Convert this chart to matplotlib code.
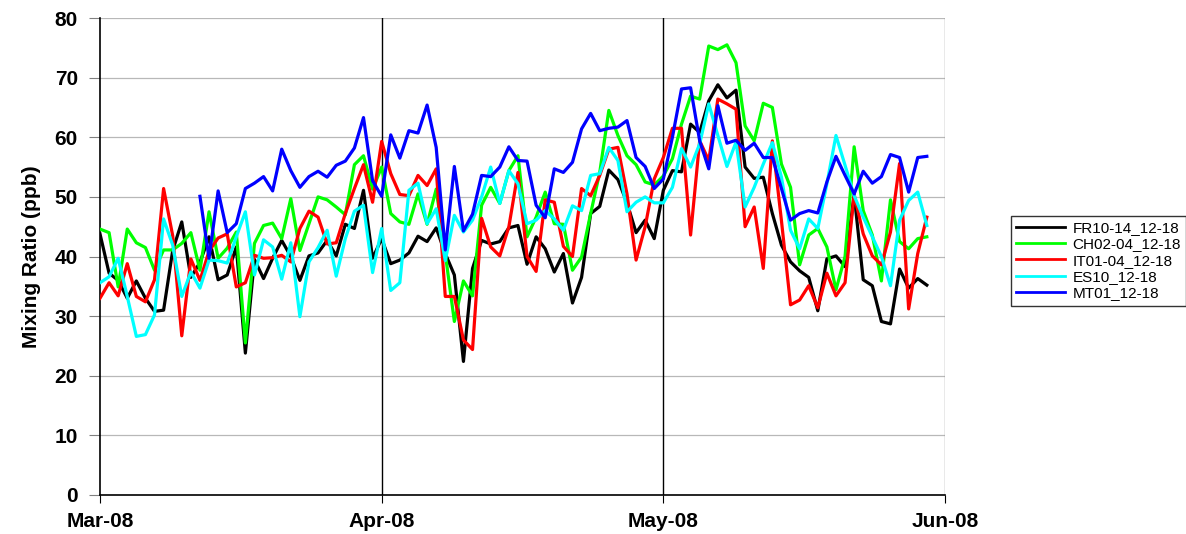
import numpy as np
import matplotlib
matplotlib.use('Agg')
import matplotlib.pyplot as plt

plt.rcParams['font.family'] = ['Liberation Sans', 'DejaVu Sans']

# daily values, 1 Mar .. 31 May 2008 (92 days)
fr10 = [43.8, 37.2, 36.0, 33.0, 35.9, 33.0, 30.8, 31.0, 41.0, 45.8,
        36.5, 39.0, 43.3, 36.1, 36.9, 41.6, 23.8, 39.5, 36.3, 39.7,
        42.7, 40.0, 36.0, 40.1, 40.6, 42.7, 40.1, 45.4, 44.7, 51.1,
        39.7, 43.0, 38.8, 39.4, 40.6, 43.4, 42.5, 44.8, 40.5, 36.9,
        22.4, 38.0, 42.7, 42.1, 42.5, 44.8, 45.2, 38.7, 43.3, 41.3,
        37.4, 40.5, 32.2, 36.5, 47.2, 48.4, 54.5, 52.9, 49.0, 44.0,
        46.1, 43.0, 51.1, 54.4, 54.2, 62.2, 60.8, 66.1, 68.8, 66.6,
        67.9, 55.0, 53.1, 53.3, 47.2, 41.9, 39.1, 37.6, 36.5, 30.9,
        39.6, 40.1, 38.3, 50.4, 36.1, 35.1, 29.1, 28.7, 37.9, 34.7,
        36.3, 35.2]
ch02 = [44.6, 44.0, 34.9, 44.6, 42.3, 41.5, 37.7, 41.1, 41.1, 42.2,
        44.0, 37.7, 47.5, 39.7, 41.4, 44.1, 25.5, 42.2, 45.2, 45.6,
        43.0, 49.7, 41.0, 45.5, 50.0, 49.5, 48.3, 47.0, 55.4, 56.9,
        51.3, 55.0, 47.2, 45.8, 45.4, 50.5, 45.4, 51.3, 40.5, 29.1,
        35.9, 33.4, 48.6, 51.6, 48.9, 54.4, 56.9, 43.3, 46.6, 50.8,
        45.5, 45.4, 37.7, 39.9, 47.2, 54.1, 64.5, 60.3, 56.9, 55.4,
        52.5, 52.0, 53.5, 56.4, 62.2, 66.9, 66.4, 75.3, 74.7, 75.5,
        72.5, 61.9, 59.4, 65.7, 65.0, 55.5, 51.6, 38.6, 43.6, 44.7,
        41.6, 34.4, 40.0, 58.4, 47.7, 43.6, 35.9, 49.5, 42.5, 41.3,
        43.0, 43.3]
it01 = [33.0, 35.6, 33.4, 38.8, 33.3, 32.4, 36.1, 51.4, 43.5, 26.7,
        39.6, 36.0, 40.9, 43.1, 43.8, 34.9, 35.6, 40.2, 39.7, 39.8,
        40.2, 39.1, 44.7, 47.6, 46.6, 42.1, 42.3, 47.2, 51.4, 55.4,
        49.1, 59.3, 53.9, 50.4, 50.2, 53.6, 51.9, 54.7, 33.3, 33.3,
        26.0, 24.4, 46.4, 41.6, 40.1, 45.0, 54.1, 40.0, 37.5, 49.5,
        49.1, 41.7, 40.0, 51.4, 50.2, 53.6, 58.0, 58.3, 50.5, 39.4,
        45.0, 53.0, 56.6, 61.5, 61.5, 43.6, 59.4, 56.1, 66.4, 65.6,
        64.7, 45.0, 48.3, 38.0, 59.4, 46.0, 31.9, 32.7, 35.1, 31.4,
        37.2, 33.4, 35.6, 50.4, 43.8, 40.1, 38.6, 44.1, 55.6, 31.2,
        40.5, 46.6]
es10 = [35.6, 36.6, 39.7, 33.3, 26.6, 26.9, 30.2, 46.3, 41.9, 33.3,
        37.4, 34.7, 39.4, 39.3, 38.9, 43.3, 47.5, 36.9, 42.8, 41.6,
        36.2, 42.3, 29.9, 39.1, 41.5, 44.4, 36.7, 43.0, 47.6, 48.6,
        37.3, 44.7, 34.3, 35.6, 51.1, 52.3, 45.5, 48.0, 39.3, 46.9,
        44.1, 46.1, 50.0, 55.0, 48.9, 54.4, 52.2, 45.5, 46.1, 47.7,
        46.3, 44.4, 48.5, 47.7, 53.6, 53.9, 58.3, 56.1, 47.5, 49.1,
        50.0, 49.0, 49.0, 51.6, 58.1, 55.0, 58.9, 65.6, 60.3, 55.1,
        59.2, 48.3, 51.6, 55.5, 59.1, 53.3, 44.4, 41.3, 46.3, 44.7,
        52.2, 60.3, 55.3, 50.2, 46.6, 43.3, 40.0, 35.1, 46.1, 49.4,
        50.8, 45.2]
mt01 = [np.nan] * 11 + [
        50.1, 39.7, 51.0, 44.0, 45.5, 51.4, 52.3, 53.4, 51.0,
        58.0, 54.4, 51.6, 53.4, 54.3, 53.3, 55.3, 56.0, 58.2, 63.3,
        52.7, 50.1, 60.4, 56.5, 61.1, 60.7, 65.4, 58.3, 41.1, 55.1,
        44.3, 47.1, 53.6, 53.4, 55.0, 58.4, 56.1, 56.0, 48.6, 46.5,
        54.7, 54.1, 55.8, 61.4, 64.0, 61.1, 61.5, 61.7, 62.8, 56.6,
        55.1, 51.4, 53.0, 60.0, 68.1, 68.3, 59.4, 54.7, 65.3, 59.0,
        59.5, 57.8, 59.0, 56.6, 56.6, 51.4, 46.1, 47.2, 47.7, 47.3,
        52.5, 56.8, 53.6, 50.5, 54.3, 52.3, 53.4, 57.1, 56.6, 50.8,
        56.6, 56.8]

series = [fr10, ch02, it01, es10, mt01]
names = ['FR10-14_12-18', 'CH02-04_12-18', 'IT01-04_12-18', 'ES10_12-18', 'MT01_12-18']
colors = ['#000000', '#00ff00', '#ff0000', '#00ffff', '#0000ff']

month_labels = ['Mar-08', 'Apr-08', 'May-08', 'Jun-08']
month_pos = [0, 31, 62, 93]

fig = plt.figure(figsize=(11.86, 5.34), dpi=100)
ax = fig.add_axes([100 / 1186, 39 / 534, 845 / 1186, 477 / 534])

days = np.arange(len(fr10))
for vals, name, c in zip(series, names, colors):
    ax.plot(days, vals, color=c, lw=2.3, label=name, zorder=3)

ax.set_xlim(0, 93)
ax.set_ylim(0, 80)
ax.set_yticks(np.arange(0, 81, 10))
ax.set_xticks(month_pos)
ax.set_xticklabels(month_labels, fontsize=15, fontweight='bold')
for lbl in ax.get_yticklabels():
    lbl.set_fontsize(15)
    lbl.set_fontweight('bold')

ax.yaxis.grid(True, color='#b8b8b8', lw=0.9)
for p in month_pos[1:3]:
    ax.axvline(p, color='black', lw=1, zorder=2)
ax.axvline(93, color='#909090', lw=1, zorder=2)

ax.spines['top'].set_visible(False)
ax.spines['right'].set_visible(False)
ax.spines['left'].set_linewidth(1.2)
ax.spines['bottom'].set_linewidth(1.2)
ax.tick_params(axis='y', direction='out', length=8, color='#808080', pad=8)
ax.tick_params(axis='x', direction='out', length=6, pad=6)

ax.set_ylabel('Mixing Ratio (ppb)', fontsize=15, fontweight='bold', labelpad=10)

leg = fig.legend(loc='upper left', bbox_to_anchor=(1003 / 1186, 1 - 208 / 534),
                 fontsize=11, frameon=True, fancybox=False, edgecolor='black',
                 handlelength=3.2, borderpad=0.35, labelspacing=0.15, handletextpad=0.5)
leg.get_frame().set_linewidth(1)
for h in leg.get_lines():
    h.set_linewidth(2)

fig.savefig('out.png', dpi=100)
